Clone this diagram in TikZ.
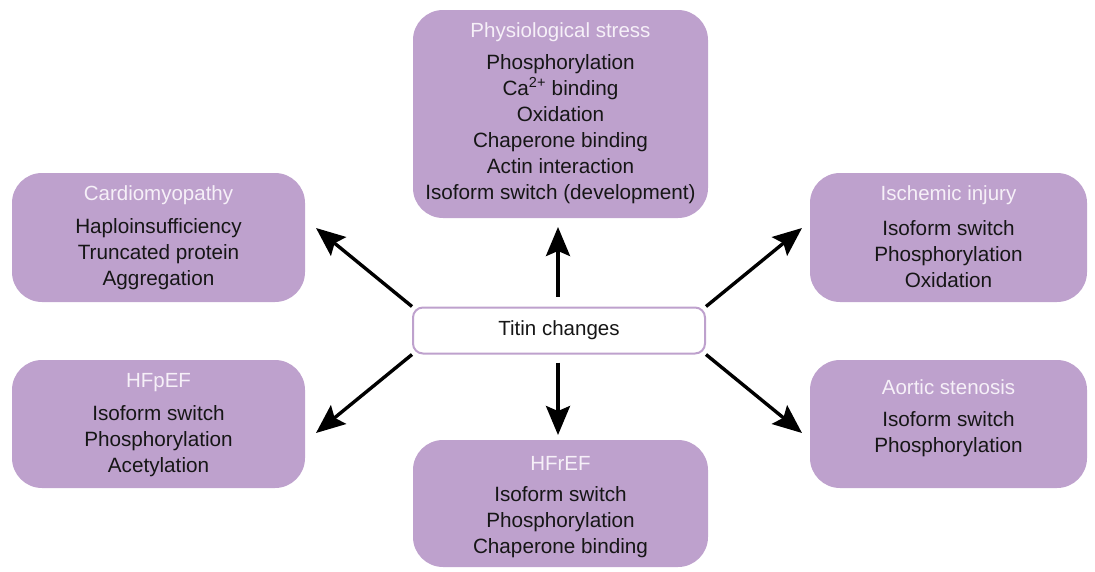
\documentclass[tikz,border=0pt]{standalone}
\usepackage{fontspec}
\setmainfont{Liberation Sans}
\usetikzlibrary{arrows.meta}
\definecolor{boxfill}{HTML}{BEA1CD}
\definecolor{titletxt}{HTML}{F6F0F8}
\definecolor{bodytxt}{HTML}{161616}
\tikzset{
  pbox/.style={fill=boxfill, draw=none, rounded corners=30pt, inner sep=0pt},
  ttl/.style={text=titletxt, font=\fontsize{20.5}{24}\selectfont, inner sep=0pt},
  body/.style={text=bodytxt, font=\fontsize{20.7}{26}\selectfont, align=center, inner sep=0pt},
  arr/.style={line width=3.4pt, -{Stealth[length=29pt,width=24pt,inset=5pt]}},
}
\begin{document}
\begin{tikzpicture}[x=1pt,y=-1pt]
\useasboundingbox (0,0) rectangle (1095,571);
% boxes
\node[pbox, minimum width=295pt, minimum height=208pt] (phys) at (560.5,114) {};
\node[pbox, minimum width=293pt, minimum height=129pt] (cardio) at (158.5,237.5) {};
\node[pbox, minimum width=277pt, minimum height=129pt] (isch) at (948.5,237.5) {};
\node[pbox, minimum width=293pt, minimum height=128pt] (hfpef) at (158.5,424) {};
\node[pbox, minimum width=277pt, minimum height=128pt] (aort) at (948.5,424) {};
\node[pbox, minimum width=295pt, minimum height=127pt] (hfref) at (560.5,503.5) {};
\node[draw=boxfill, line width=2pt, fill=white, rounded corners=10pt, minimum width=292pt, minimum height=46pt, inner sep=0pt, text=bodytxt, font=\fontsize{20.5}{24}\selectfont] (titin) at (559,330.5) {Titin changes};
% titles
\node[ttl] (physT) at (560.5,32) {Physiological stress};
\node[ttl] (cardioT) at (158.5,195) {Cardiomyopathy};
\node[ttl] (ischT) at (948.5,195) {Ischemic injury};
\node[ttl] (hfpefT) at (158.5,383) {HFpEF};
\node[ttl] (aortT) at (948.5,387) {Aortic stenosis};
\node[ttl] (hfrefT) at (560.5,463) {HFrEF};
% bodies
\node[body] (physB) at (560.5,129) {Phosphorylation\\Ca\textsuperscript{2+} binding\\Oxidation\\Chaperone binding\\Actin interaction\\Isoform switch (development)};
\node[body] (cardioB) at (158.5,254) {Haploinsufficiency\\Truncated protein\\Aggregation};
\node[body] (ischB) at (948.5,254) {Isoform switch\\Phosphorylation\\Oxidation};
\node[body] (hfpefB) at (158.5,441) {Isoform switch\\Phosphorylation\\Acetylation};
\node[body] (aortB) at (948.5,434) {Isoform switch\\Phosphorylation};
\node[body] (hfrefB) at (560.5,522) {Isoform switch\\Phosphorylation\\Chaperone binding};
% arrow endpoints
\coordinate (aUp) at (558,227);
\coordinate (aDn) at (558,435);
\coordinate (aUL) at (316,228);
\coordinate (aUR) at (802,228);
\coordinate (aDL) at (316,433);
\coordinate (aDR) at (802,433);
\draw[arr] ([xshift=-1pt,yshift=10pt]titin.north) -- (aUp);
\draw[arr] ([xshift=-1pt,yshift=-8pt]titin.south) -- (aDn);
\draw[arr] (titin.north west) -- (aUL);
\draw[arr] (titin.north east) -- (aUR);
\draw[arr] (titin.south west) -- (aDL);
\draw[arr] (titin.south east) -- (aDR);
\end{tikzpicture}
\end{document}
